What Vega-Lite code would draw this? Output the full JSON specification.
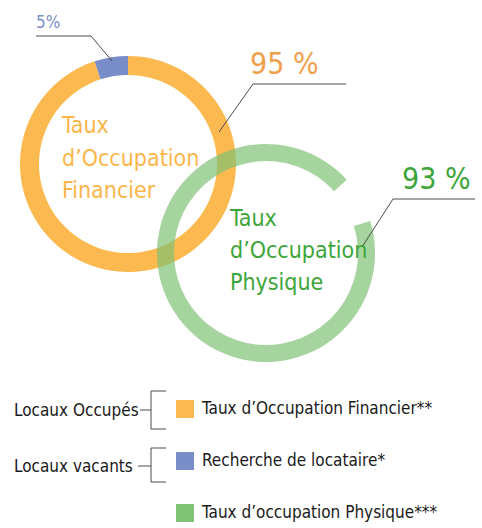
{
  "$schema": "https://vega.github.io/schema/vega-lite/v6.json",
  "width": 482,
  "height": 528,
  "padding": 0,
  "autosize": {"type": "none"},
  "background": "white",
  "config": {
    "view": {"stroke": null},
    "font": "'DejaVu Sans Condensed', 'Liberation Sans Narrow', sans-serif",
    "text": {"font": "'DejaVu Sans Condensed', 'Liberation Sans Narrow', sans-serif"}
  },
  "datasets": {
    "anneaux": [
      {"indicateur": "Financier", "segment": "Taux d’Occupation Financier**", "valeur": 95},
      {"indicateur": "Financier", "segment": "Recherche de locataire*", "valeur": 5},
      {"indicateur": "Physique", "segment": "Taux d’occupation Physique***", "valeur": 93}
    ],
    "textes": [
      {"groupe": "Recherche", "texte": "5%", "x": 36, "y": 28},
      {"groupe": "Financier", "texte": "95 %", "x": 250, "y": 74},
      {"groupe": "Physique", "texte": "93 %", "x": 402, "y": 189}
    ],
    "titres": [
      {"groupe": "Financier", "texte": "Taux\nd’Occupation\nFinancier", "x": 62, "y": 133},
      {"groupe": "Physique", "texte": "Taux\nd’Occupation\nPhysique", "x": 230, "y": 226}
    ],
    "categories": [
      {"texte": "Locaux Occupés", "x": 14, "y": 416},
      {"texte": "Locaux vacants", "x": 14, "y": 472}
    ],
    "traits": [
      {"x": 36, "y": 36, "x2": 91, "y2": 36},
      {"x": 91, "y": 36, "x2": 112, "y2": 61},
      {"x": 253, "y": 84, "x2": 346, "y2": 84},
      {"x": 253, "y": 84, "x2": 219, "y2": 132},
      {"x": 393, "y": 199, "x2": 475, "y2": 199},
      {"x": 393, "y": 199, "x2": 362, "y2": 247},
      {"x": 140, "y": 410, "x2": 151, "y2": 410},
      {"x": 151, "y": 391, "x2": 151, "y2": 429},
      {"x": 151, "y": 391, "x2": 166, "y2": 391},
      {"x": 151, "y": 429, "x2": 166, "y2": 429},
      {"x": 138, "y": 466, "x2": 151, "y2": 466},
      {"x": 151, "y": 448, "x2": 151, "y2": 482},
      {"x": 151, "y": 448, "x2": 166, "y2": 448},
      {"x": 151, "y": 482, "x2": 166, "y2": 482}
    ]
  },
  "resolve": {"scale": {"theta": "independent"}},
  "layer": [
    {
      "data": {"name": "anneaux"},
      "transform": [{"filter": "datum.indicateur == 'Financier'"}],
      "mark": {"type": "arc", "radius": 108, "radius2": 89},
      "encoding": {
        "x": {"datum": 128, "type": "quantitative", "scale": {"domain": [0, 482], "nice": false, "zero": false}, "axis": null},
        "y": {"datum": 164, "type": "quantitative", "scale": {"domain": [0, 528], "reverse": true, "nice": false, "zero": false}, "axis": null},
        "theta": {"field": "valeur", "type": "quantitative", "stack": true, "scale": {"domain": [0, 100], "range": [0, 6.2832]}},
        "order": {"field": "valeur", "sort": "descending"},
        "color": {
          "field": "segment", "type": "nominal",
          "scale": {
            "domain": ["Taux d’Occupation Financier**", "Recherche de locataire*", "Taux d’occupation Physique***"],
            "range": ["#FBB94F", "#798DC8", "#80C275"]
          },
          "legend": {
            "orient": "none", "legendX": 176, "legendY": 400, "title": null,
            "symbolType": "square", "symbolSize": 324, "symbolStrokeWidth": 0, "symbolOpacity": 1,
            "labelFontSize": 17, "labelColor": "#1a1a1a",
            "labelOffset": 8, "rowPadding": 34, "padding": 0, "labelLimit": 400,
            "encode": {"symbols": {"update": {"opacity": {"value": 1}, "fillOpacity": {"value": 1}}}}
          }
        }
      }
    },
    {
      "data": {"name": "anneaux"},
      "transform": [{"filter": "datum.indicateur == 'Physique'"}],
      "mark": {"type": "arc", "radius": 109, "radius2": 92, "opacity": 0.7},
      "encoding": {
        "x": {"datum": 266, "type": "quantitative", "scale": {"domain": [0, 482], "nice": false, "zero": false}, "axis": null},
        "y": {"datum": 253, "type": "quantitative", "scale": {"domain": [0, 528], "reverse": true, "nice": false, "zero": false}, "axis": null},
        "theta": {"field": "valeur", "type": "quantitative", "stack": true, "scale": {"domain": [0, 100], "range": [1.274, 7.5572]}},
        "color": {"field": "segment", "type": "nominal"}
      }
    },
    {
      "data": {"name": "traits"},
      "mark": {"type": "rule", "color": "#4a4a4a", "strokeWidth": 1},
      "encoding": {
        "x": {"field": "x", "type": "quantitative", "scale": {"domain": [0, 482], "nice": false, "zero": false}, "axis": null},
        "y": {"field": "y", "type": "quantitative", "scale": {"domain": [0, 528], "reverse": true, "nice": false, "zero": false}, "axis": null},
        "x2": {"field": "x2"},
        "y2": {"field": "y2"}
      }
    },
    {
      "data": {"name": "textes"},
      "transform": [{"filter": "datum.groupe == 'Recherche'"}],
      "mark": {"type": "text", "align": "left", "baseline": "alphabetic", "fontSize": 17, "color": "#7A8EC9"},
      "encoding": {
        "x": {"field": "x", "type": "quantitative"},
        "y": {"field": "y", "type": "quantitative"},
        "text": {"field": "texte"}
      }
    },
    {
      "data": {"name": "textes"},
      "transform": [{"filter": "datum.groupe == 'Financier'"}],
      "mark": {"type": "text", "align": "left", "baseline": "alphabetic", "fontSize": 30, "color": "#F0A04B"},
      "encoding": {
        "x": {"field": "x", "type": "quantitative"},
        "y": {"field": "y", "type": "quantitative"},
        "text": {"field": "texte"}
      }
    },
    {
      "data": {"name": "textes"},
      "transform": [{"filter": "datum.groupe == 'Physique'"}],
      "mark": {"type": "text", "align": "left", "baseline": "alphabetic", "fontSize": 30, "color": "#3DA53A"},
      "encoding": {
        "x": {"field": "x", "type": "quantitative"},
        "y": {"field": "y", "type": "quantitative"},
        "text": {"field": "texte"}
      }
    },
    {
      "data": {"name": "titres"},
      "transform": [{"filter": "datum.groupe == 'Financier'"}],
      "mark": {"type": "text", "align": "left", "baseline": "alphabetic", "fontSize": 23, "lineHeight": 32.5, "lineBreak": "\n", "color": "#FBB64A"},
      "encoding": {
        "x": {"field": "x", "type": "quantitative"},
        "y": {"field": "y", "type": "quantitative"},
        "text": {"field": "texte"}
      }
    },
    {
      "data": {"name": "titres"},
      "transform": [{"filter": "datum.groupe == 'Physique'"}],
      "mark": {"type": "text", "align": "left", "baseline": "alphabetic", "fontSize": 23, "lineHeight": 32, "lineBreak": "\n", "color": "#3DA53A"},
      "encoding": {
        "x": {"field": "x", "type": "quantitative"},
        "y": {"field": "y", "type": "quantitative"},
        "text": {"field": "texte"}
      }
    },
    {
      "data": {"name": "categories"},
      "mark": {"type": "text", "align": "left", "baseline": "alphabetic", "fontSize": 17, "color": "#1a1a1a"},
      "encoding": {
        "x": {"field": "x", "type": "quantitative"},
        "y": {"field": "y", "type": "quantitative"},
        "text": {"field": "texte"}
      }
    }
  ]
}
